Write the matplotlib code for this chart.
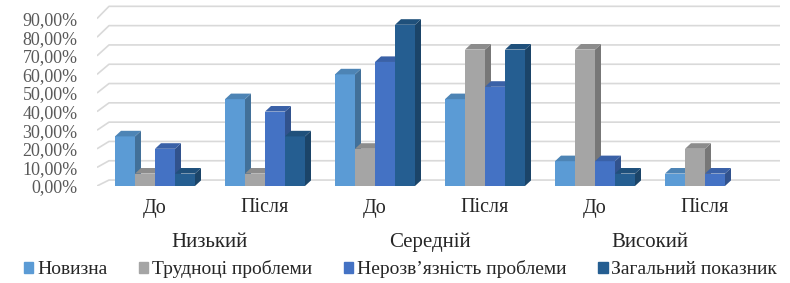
import matplotlib
matplotlib.use("Agg")
import matplotlib.pyplot as plt
from matplotlib.patches import Polygon, Patch
import numpy as np

# data (share of students, %)
levels = ["Низький", "Середній", "Високий"]
stages = ["До", "Після"]
series = ["Новизна", "Трудноці проблеми", "Нерозв’язність проблеми", "Загальний показник"]
novyzna = [26.67, 46.67, 60.00, 46.67, 13.33, 6.67]
trudnoshchi = [6.67, 6.67, 20.00, 73.33, 73.33, 20.00]
nerozviaznist = [20.00, 40.00, 66.67, 53.33, 13.33, 6.67]
zahalnyi = [6.67, 26.67, 86.67, 73.33, 6.67, 0.00]
yticks = [0, 10, 20, 30, 40, 50, 60, 70, 80, 90]

colors = ["#5b9bd5", "#a5a5a5", "#4472c4", "#255e91"]
values = [novyzna, trudnoshchi, nerozviaznist, zahalnyi]


def shade(c, f):
    rgb = np.array(matplotlib.colors.to_rgb(c))
    return tuple(np.clip(rgb * f, 0, 1))


plt.rcParams["font.family"] = ["Liberation Serif", "DejaVu Serif"]

fig = plt.figure(figsize=(7.9, 2.83), dpi=100)
ax = fig.add_axes([97 / 790, 97 / 283, (780 - 97) / 790, 181 / 283])
xmin, xmax = -0.9, 33.25
ax.set_xlim(xmin, xmax)
ax.set_ylim(0, 97.3)
for s in ax.spines.values():
    s.set_visible(False)

# back wall gridlines with a slanted part on the left side wall
wdx = 0.6
for v in yticks:
    yb = v * 1.0376 + 3.2
    ax.plot([xmin, xmin + wdx, xmax], [v, yb, yb], color="#d9d9d9", lw=1.2,
            zorder=1, solid_capstyle="butt")

# pseudo-3d bars
ddx, ddy = 0.3, 3.0
gap = 5.5
for g in range(len(novyzna)):
    for j in range(len(series)):
        h = values[j][g]
        if h <= 0:
            continue
        x0 = g * gap + j
        x1 = x0 + 1
        z = 3 + g * 10 + j * 2
        ax.bar(x0, h, width=1, align="edge", color=colors[j], zorder=z,
               linewidth=0)
        side = Polygon([(x1, 0), (x1 + ddx, ddy), (x1 + ddx, h + ddy), (x1, h)],
                       closed=True, color=shade(colors[j], 0.72), lw=0, zorder=z)
        top = Polygon([(x0, h), (x0 + ddx, h + ddy), (x1 + ddx, h + ddy), (x1, h)],
                      closed=True, color=shade(colors[j], 0.85), lw=0, zorder=z)
        ax.add_patch(side)
        ax.add_patch(top)

ax.set_yticks(yticks)
ax.set_yticklabels(["{:.2f}%".format(v).replace(".", ",") for v in yticks],
                   fontsize=13, color="#595959")
ax.tick_params(axis="y", length=0, pad=14)

centers = [g * gap + 2 for g in range(len(novyzna))]
ax.set_xticks(centers)
ax.set_xticklabels([stages[g % 2] for g in range(len(novyzna))],
                   fontsize=14.5, color="#262626")
ax.tick_params(axis="x", length=0, pad=9)

for i, name in enumerate(levels):
    cx = (centers[2 * i] + centers[2 * i + 1]) / 2
    ax.text(cx, -0.31, name, transform=ax.get_xaxis_transform(),
            ha="center", va="center", fontsize=15, color="#262626")

handles = [Patch(color=c, label=s) for c, s in zip(colors, series)]
fig.legend(handles=handles, loc="center", bbox_to_anchor=(0.507, 14 / 283),
           ncol=4, frameon=False, fontsize=14, handlelength=0.5,
           handleheight=0.5, handletextpad=0.2, columnspacing=1.6,
           labelcolor="#262626")

fig.savefig("out.png", dpi=100, facecolor="white")
